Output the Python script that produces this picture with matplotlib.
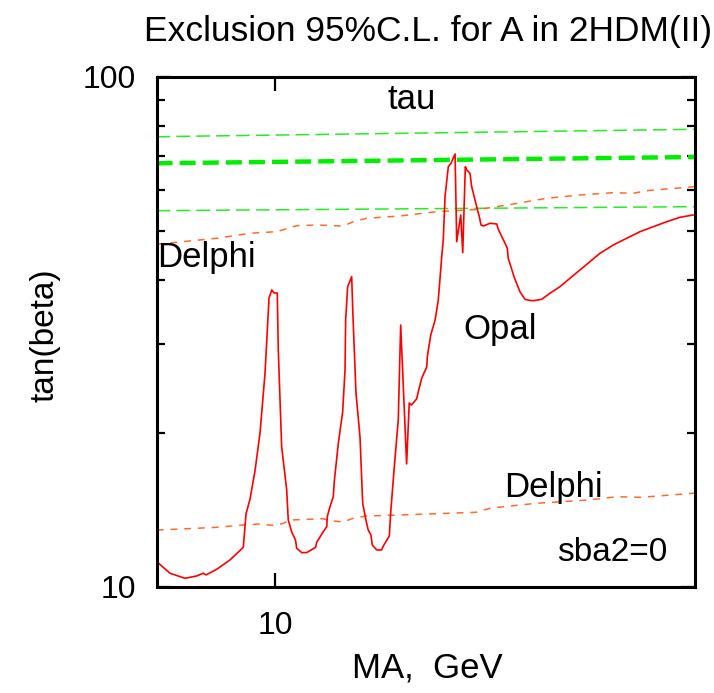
import matplotlib
matplotlib.use("Agg")
import matplotlib.pyplot as plt
from matplotlib.ticker import FixedLocator, FixedFormatter, LogLocator, NullLocator, NullFormatter

plt.rcParams['font.family'] = ['Liberation Sans', 'DejaVu Sans']

# Opal exclusion curve (MA in GeV, tan(beta))
opal_ma = [9.002, 9.108, 9.230, 9.327, 9.381, 9.404, 9.493, 9.606, 9.720, 9.743,
           9.778, 9.821, 9.865, 9.909, 9.944, 9.968, 9.988, 10.017, 10.026, 10.056,
           10.101, 10.115, 10.146, 10.180, 10.191, 10.236, 10.282, 10.364, 10.373, 10.434,
           10.466, 10.471, 10.496, 10.527, 10.536, 10.574, 10.615, 10.637, 10.643, 10.662,
           10.700, 10.710, 10.741, 10.779, 10.805, 10.836, 10.858, 10.884, 10.897, 10.939,
           10.988, 11.004, 11.063, 11.076, 11.112, 11.151, 11.175, 11.234, 11.260, 11.282,
           11.334, 11.351, 11.386, 11.436, 11.442, 11.477, 11.521, 11.554, 11.589, 11.605,
           11.623, 11.657, 11.685, 11.727, 11.744, 11.786, 11.807, 11.834, 11.849, 11.883,
           11.901, 11.954, 11.982, 12.000, 12.024, 12.096, 12.168, 12.185, 12.258, 12.283,
           12.293, 12.356, 12.421, 12.477, 12.532, 12.569, 12.663, 12.756, 12.870, 12.984,
           13.100, 13.217, 13.335, 13.493, 13.654, 13.816, 13.980, 14.148, 14.315, 14.481]
opal_tb = [11.21, 10.64, 10.40, 10.51, 10.64, 10.56, 10.83, 11.30, 11.96, 13.90,
           14.88, 16.88, 20.04, 26.28, 36.87, 38.23, 37.71, 37.71, 29.16, 18.84,
           15.50, 13.53, 12.82, 12.36, 11.91, 11.68, 11.68, 11.96, 12.23, 12.84,
           13.13, 13.74, 14.37, 15.03, 16.09, 19.13, 22.07, 26.64, 33.38, 38.80,
           40.59, 34.93, 23.98, 19.71, 14.59, 13.53, 12.93, 12.65, 12.09, 11.82,
           11.82, 12.03, 12.59, 13.95, 17.21, 21.25, 32.64, 17.43, 22.95, 22.74,
           23.37, 24.15, 25.69, 27.00, 28.29, 31.20, 33.38, 36.54, 44.43, 47.91,
           58.25, 66.70, 67.74, 70.64, 47.54, 53.63, 45.24, 66.70, 65.72, 64.74,
           60.94, 55.67, 53.22, 51.26, 51.03, 51.66, 51.50, 50.28, 47.20, 46.14,
           44.11, 40.59, 37.93, 36.65, 36.46, 36.42, 36.65, 37.66, 38.80, 40.30,
           41.84, 43.44, 45.12, 46.84, 48.28, 49.74, 50.87, 52.03, 53.08, 53.63]

# Delphi limits (upper and lower branches)
delphi_hi_ma = [9.002, 9.493, 9.778, 10.012, 10.191, 10.373, 10.621, 10.715, 10.843, 11.168,
                11.538, 11.989, 12.348, 12.719, 13.100, 13.493, 13.734, 13.898, 14.494]
delphi_hi_tb = [46.99, 48.28, 49.38, 49.74, 51.10, 51.26, 51.03, 52.03, 52.84, 53.39,
                54.44, 55.03, 56.36, 57.83, 58.70, 59.31, 59.15, 59.85, 60.94]
delphi_lo_ma = [9.002, 9.493, 9.720, 9.865, 9.997, 10.071, 10.131, 10.431, 10.496, 10.621,
                10.715, 10.843, 11.168, 11.947, 12.096, 12.599, 13.201, 13.534, 13.828, 14.494]
delphi_lo_tb = [12.93, 13.09, 13.23, 13.29, 13.19, 13.33, 13.53, 13.61, 13.49, 13.41,
                13.64, 13.78, 13.84, 14.01, 14.27, 14.59, 14.81, 15.03, 14.99, 15.27]

# tau limits (green)
tau_ma = [9.0, 14.5]
tau_up = [76.37, 78.97]
tau_mid = [67.73, 69.68]
tau_low = [54.68, 55.68]

fig = plt.figure(figsize=(7.14, 6.93), dpi=100)
ax = fig.add_axes([0.2192, 0.1530, 0.7535, 0.7359])

ax.plot(tau_ma, tau_up, color='#22ee22', lw=1.1, dashes=(9, 4))
ax.plot(tau_ma, tau_mid, color='#00ee00', lw=3.2, dashes=(3.6, 1.6))
ax.plot(tau_ma, tau_low, color='#22ee22', lw=1.1, dashes=(9, 4))
ax.plot(delphi_hi_ma, delphi_hi_tb, color='#ff6a2a', lw=1.1, dashes=(4.5, 4.5))
ax.plot(delphi_lo_ma, delphi_lo_tb, color='#ff6a2a', lw=1.1, dashes=(4.5, 4.5))
ax.plot(opal_ma, opal_tb, color='#ff0000', lw=1.2)

ax.set_xscale('log')
ax.set_yscale('log')
ax.set_xlim(9, 14.5)
ax.set_ylim(10, 100)

ax.xaxis.set_major_locator(FixedLocator([10]))
ax.xaxis.set_major_formatter(FixedFormatter(['10']))
ax.xaxis.set_minor_locator(NullLocator())
ax.yaxis.set_major_locator(FixedLocator([10, 100]))
ax.yaxis.set_major_formatter(FixedFormatter(['10', '100']))
ax.yaxis.set_minor_locator(LogLocator(subs=range(2, 10)))
ax.yaxis.set_minor_formatter(NullFormatter())

ax.tick_params(which='both', direction='in', top=True, right=True, width=1.6, labelsize=23)
ax.tick_params(which='major', length=10)
ax.tick_params(which='minor', length=6)
ax.tick_params(axis='x', pad=17)
ax.tick_params(axis='y', pad=15)
for s in ax.spines.values():
    s.set_linewidth(2.2)

ax.text(0.475, 0.955, 'tau', transform=ax.transAxes, fontsize=25, ha='center', va='center')
ax.text(0.002, 0.647, 'Delphi', transform=ax.transAxes, fontsize=25, ha='left', va='center')
ax.text(0.638, 0.504, 'Opal', transform=ax.transAxes, fontsize=25, ha='center', va='center')
ax.text(0.737, 0.196, 'Delphi', transform=ax.transAxes, fontsize=25, ha='center', va='center')
ax.text(0.847, 0.067, 'sba2=0', transform=ax.transAxes, fontsize=24, ha='center', va='center')

fig.text(0.599, 0.955, 'Exclusion 95%C.L. for A in 2HDM(II)', fontsize=25.5, ha='center', va='center')
fig.text(0.599, 0.036, 'MA,  GeV', fontsize=25, ha='center', va='center')
fig.text(0.063, 0.517, 'tan(beta)', fontsize=24, ha='center', va='center', rotation=90)

fig.savefig('out.png', dpi=100)
